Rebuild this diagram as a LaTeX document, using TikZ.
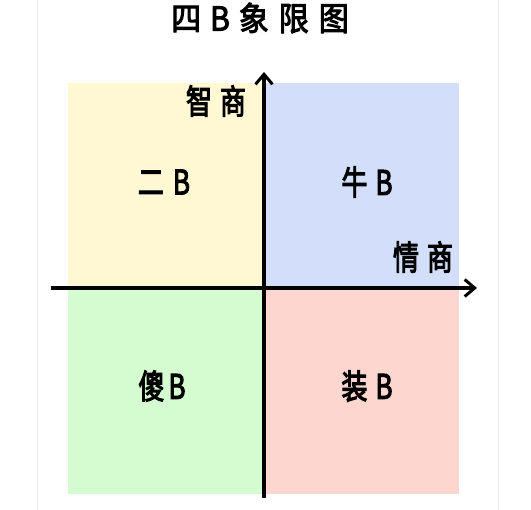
\documentclass[tikz,border=0pt]{standalone}
\usepackage{fontspec}
\newfontfamily\cjk{Noto Sans CJK SC}[FakeBold=3.5]
\newfontfamily\cjkt{Noto Sans CJK SC}[FakeBold=3]
\usetikzlibrary{arrows.meta}
\definecolor{qyellow}{HTML}{FFF8D3}
\definecolor{qblue}{HTML}{D3DFFA}
\definecolor{qgreen}{HTML}{D4FCD0}
\definecolor{qpink}{HTML}{FDD7CF}
\definecolor{frame}{HTML}{EDEDED}
\tikzset{
  axis/.style={line width=3.2pt, -{Straight Barb[length=10pt,width=17pt,line width=3pt]}},
  lbl/.style={font=\cjk\fontsize{26}{26}\selectfont, inner sep=0pt},
  ttl/.style={font=\cjkt\fontsize{30}{30}\selectfont, inner sep=0pt}
}
\newcommand{\tallt}[1]{\scalebox{1}[1.3]{#1}}
\begin{document}
\begin{tikzpicture}[x=1pt,y=-1pt]
\useasboundingbox[fill=white] (0,0) rectangle (531,510);
\draw[frame, line width=0.8pt] (37.5,0) -- (37.5,510) (498.5,0) -- (498.5,510);
\fill[qyellow] (68,83) rectangle (264,288);
\fill[qblue] (264,83) rectangle (459,288);
\fill[qgreen] (68,288) rectangle (264,494);
\fill[qpink] (264,288) rectangle (459,494);
\coordinate (xs) at (51,288);
\coordinate (xe) at (477,288);
\coordinate (ys) at (264,498);
\coordinate (ye) at (264,72);
\draw[axis] (xs) -- (xe);
\draw[axis] (ys) -- (ye);
\node[ttl] (title) at (260,18) {\scalebox{1}[1.1]{四\hspace{9pt}B\hspace{9pt}象\hspace{10pt}限\hspace{10pt}图}};
\node[lbl] (zs) at (216,101) {\tallt{智\hspace{8pt}商}};
\node[lbl] (qs) at (423,257) {\tallt{情\hspace{8pt}商}};
\node[lbl] (erb) at (164,182) {\tallt{二\hspace{9pt}B}};
\node[lbl] (niub) at (367,182) {\tallt{牛\hspace{8pt}B}};
\node[lbl] (shab) at (162,386) {\tallt{傻\hspace{4pt}B}};
\node[lbl] (zhuangb) at (367,386) {\tallt{装\hspace{8pt}B}};
\end{tikzpicture}
\end{document}
